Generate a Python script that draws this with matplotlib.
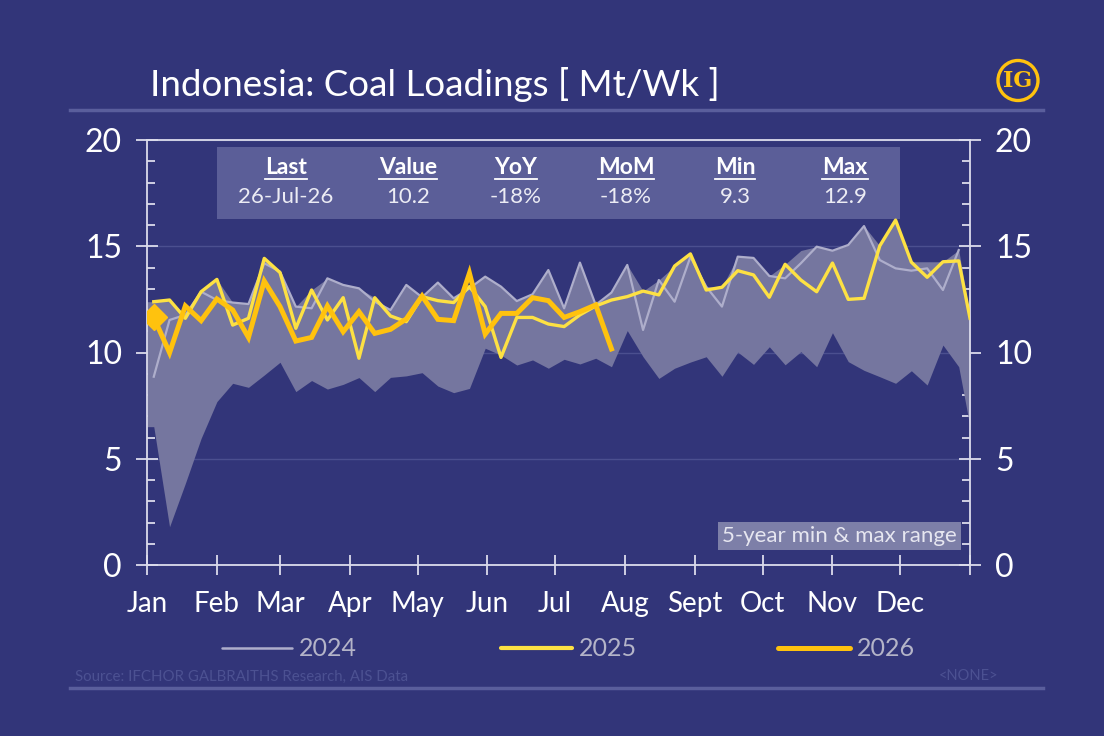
import numpy as np
import matplotlib
matplotlib.use('Agg')
import matplotlib.pyplot as plt
from matplotlib.lines import Line2D
from matplotlib.patches import Rectangle, Ellipse
from matplotlib.ticker import MultipleLocator

plt.rcParams['font.family'] = ['Lato', 'DejaVu Sans']

# month axis (day of year of each month start)
months = ['Jan', 'Feb', 'Mar', 'Apr', 'May', 'Jun', 'Jul', 'Aug', 'Sept', 'Oct', 'Nov', 'Dec']
month_start = [0, 31, 59, 90, 120, 151, 181, 212, 243, 273, 304, 334, 365]

# weekly loadings, Mt/Wk (52 weeks)
y2024 = [8.86, 11.53, 11.77, 12.86, 12.47, 12.35, 12.28, 14.2, 13.8, 12.16,
         12.08, 13.49, 13.18, 13.02, 12.39, 12.0, 13.18, 12.6, 13.29, 12.55,
         13.02, 13.57, 13.10, 12.42, 12.74, 13.88, 12.08, 14.23, 12.24, 12.82,
         14.12, 11.06, 13.41, 12.39, 14.5, 13.1, 12.16, 14.51, 14.45, 13.6,
         13.49, 14.2, 14.98, 14.79, 15.06, 15.95, 14.35, 13.96, 13.85, 13.96,
         12.94, 14.82]

# 52 weeks + year-end point
y2025 = [12.39, 12.47, 11.61, 12.86, 13.44, 11.29, 11.61, 14.43, 13.76, 11.14,
         12.94, 11.53, 12.58, 9.73, 12.58, 11.72, 11.45, 12.63, 12.44, 12.35,
         13.10, 12.16, 9.77, 11.65, 11.65, 11.34, 11.22, 11.77, 12.19, 12.47,
         12.63, 12.89, 12.71, 14.07, 14.64, 12.94, 13.07, 13.85, 13.65, 12.60,
         14.15, 13.41, 12.86, 14.21, 12.50, 12.55, 15.02, 16.23, 14.25, 13.54,
         14.27, 14.31, 11.61]

# up to 26-Jul
y2026 = [11.65, 9.99, 12.19, 11.50, 12.52, 12.0, 10.71, 13.36, 12.16, 10.54,
         10.71, 12.19, 10.98, 11.92, 10.9, 11.09, 11.58, 12.66, 11.56, 11.50,
         13.73, 10.87, 11.84, 11.84, 12.58, 12.44, 11.65, 11.92, 12.24, 10.17]

# 5-year min & max range (52 weeks + year-end point)
band_lo = [6.51, 1.80, 3.84, 5.96, 7.69, 8.55, 8.36, 8.94, 9.54, 8.16,
           8.68, 8.28, 8.50, 8.82, 8.16, 8.83, 8.90, 9.05, 8.42, 8.11,
           8.31, 10.2, 9.88, 9.41, 9.65, 9.26, 9.68, 9.46, 9.73, 9.33,
           11.03, 9.80, 8.78, 9.26, 9.55, 9.80, 8.88, 10.02, 9.44, 10.27,
           9.42, 10.04, 9.33, 10.93, 9.57, 9.16, 8.86, 8.55, 9.14, 8.47,
           10.35, 9.33, 6.51]
band_hi = [12.39, 12.47, 11.77, 12.86, 13.44, 12.35, 12.28, 14.43, 13.8, 12.16,
           12.94, 13.49, 13.18, 13.02, 12.58, 12.0, 13.18, 12.63, 13.29, 12.55,
           13.10, 13.57, 13.10, 12.42, 12.74, 13.88, 12.08, 14.23, 12.24, 12.82,
           14.12, 12.89, 13.41, 14.07, 14.64, 13.1, 13.07, 14.51, 14.45, 13.6,
           14.15, 14.8, 14.98, 14.79, 15.06, 15.95, 15.02, 16.23, 14.27, 14.27,
           14.27, 14.82, 11.7]

table_heads = ['Last', 'Value', 'YoY', 'MoM', 'Min', 'Max']
table_vals = ['26-Jul-26', '10.2', '-18%', '-18%', '9.3', '12.9']

BG = '#323579'
BAND = '#75769f'
C24 = '#aeaecb'
C25 = '#fde143'
C26 = '#ffc20e'
AXC = '#dcdcec'
SEP = '#5a5e9c'

W, H = 1104, 736
fig = plt.figure(figsize=(W / 100, H / 100), dpi=100)
fig.patch.set_facecolor(BG)


def fx(px):
    return px / W


def fy(py):
    return 1 - py / H


ax = fig.add_axes([fx(147), fy(565), fx(970) - fx(147), fy(140) - fy(565)])
ax.set_facecolor(BG)

wk = 3 + 7 * np.arange(52)
wk_end = np.r_[wk, 365]
band_x = np.r_[0, wk_end]

ax.fill_between(band_x, np.r_[band_lo[0], band_lo], np.r_[band_hi[0], band_hi],
                color=BAND, lw=0, zorder=1)
ax.plot(wk, y2024, color=C24, lw=1.6, zorder=3)
ax.plot(wk_end, y2025, color=C25, lw=2.4, zorder=4)
ax.plot(wk[:len(y2026)], y2026, color=C26, lw=3.6, zorder=5, solid_joinstyle='miter')
ax.plot(wk[0], y2026[0], marker='D', ms=13, color=C26, zorder=6)

ax.set_xlim(0, 365)
ax.set_ylim(0, 20)
ax.set_xticks(month_start)
ax.set_xticklabels(months + [''])
ax.yaxis.set_major_locator(MultipleLocator(5))
ax.yaxis.set_minor_locator(MultipleLocator(1))
ax.grid(axis='y', color='#4b4f8f', lw=1, zorder=0)
ax.set_axisbelow(True)

for s in ['left', 'right', 'bottom', 'top']:
    ax.spines[s].set_color(AXC)
    ax.spines[s].set_linewidth(1.3)

ax.tick_params(axis='x', which='major', direction='inout', length=14, width=1.3,
               color=AXC, labelcolor='white', labelsize=20, pad=12)
ax.tick_params(axis='y', which='major', direction='inout', length=16, width=1.3,
               color=AXC, labelcolor='white', labelsize=23, pad=10,
               left=True, right=True, labelleft=True, labelright=True)
ax.tick_params(axis='y', which='minor', direction='in', length=6, width=1.3,
               color=AXC, left=True, right=True)

# table box
ax.add_patch(Rectangle((fx(217), fy(219)), fx(900) - fx(217), fy(147) - fy(219),
                       transform=fig.transFigure, facecolor='#5b5e98',
                       edgecolor='none', zorder=2, clip_on=False))
col_x = [286, 408, 516, 626, 735, 845]
head_txt = []
for cx, hd, vl in zip(col_x, table_heads, table_vals):
    t = fig.text(fx(cx), fy(167), hd, ha='center', va='center', fontsize=16.5,
                 fontweight='bold', color='white')
    head_txt.append(t)
    fig.text(fx(cx), fy(197), vl, ha='center', va='center', fontsize=16,
             color='#ececf4')

# range label
fig.text(fx(957), fy(536), '5-year min & max range', ha='right', va='center',
         fontsize=16, color='#e6e6f0',
         bbox=dict(boxstyle='square,pad=0.2', facecolor='#7d7fa8', edgecolor='none'))

# title and frame lines
fig.text(fx(150), fy(84), 'Indonesia: Coal Loadings [ Mt/Wk ]', ha='left', va='center',
         fontsize=26.5, color='white')
fig.add_artist(Line2D([fx(70), fx(1043)], [fy(110), fy(110)], color=SEP, lw=2.5))
fig.add_artist(Line2D([fx(70), fx(1043)], [fy(688), fy(688)], color=SEP, lw=2.5))

# logo
fig.add_artist(Ellipse((fx(1018), fy(80.5)), 40 / W, 40 / H, facecolor='none',
                       edgecolor=C26, lw=2.4))
fig.text(fx(1018), fy(81), 'IG', ha='center', va='center', fontsize=16,
         fontweight='bold', color=C26, family=['DejaVu Serif'])

# legend
leg = [('2024', C24, 1.8, 222, 292), ('2025', C25, 3.0, 501, 572), ('2026', C26, 3.6, 778, 850)]
for name, col, lw, x0, x1 in leg:
    fig.add_artist(Line2D([fx(x0), fx(x1)], [fy(648), fy(648)], color=col, lw=lw,
                          solid_capstyle='round'))
    fig.text(fx(x1 + 7), fy(648), name, ha='left', va='center', fontsize=18,
             color='#b4b4c8')

# footer
fig.text(fx(75), fy(677), 'Source: IFCHOR GALBRAITHS Research, AIS Data', ha='left',
         va='center', fontsize=10.8, color='#4c5192')
fig.text(fx(998), fy(676), '<NONE>', ha='right', va='center', fontsize=10.5,
         color='#4c5192')

# underline the table headers
fig.canvas.draw()
rend = fig.canvas.get_renderer()
for t in head_txt:
    bb = t.get_window_extent(rend)
    yl = bb.y0 - 1
    fig.add_artist(Line2D([bb.x0 / W, bb.x1 / W], [yl / H, yl / H], color='white', lw=1.3))

fig.savefig('out.png', dpi=100, facecolor=BG)
